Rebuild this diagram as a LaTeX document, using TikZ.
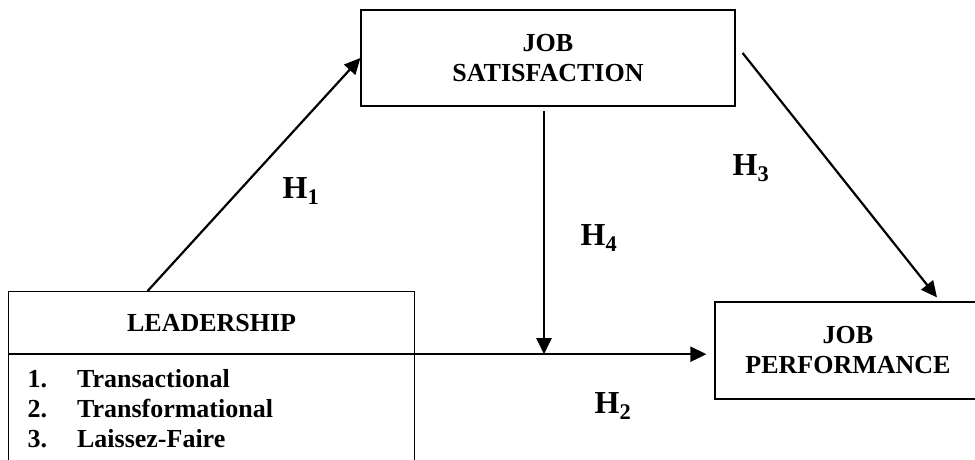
\documentclass[tikz,border=0pt]{standalone}
\usepackage{fontspec}
\setmainfont{Liberation Serif}
\usetikzlibrary{arrows.meta,positioning}

\tikzset{
  box/.style={draw, line width=1.2pt, font=\fontsize{26}{30}\selectfont\bfseries, align=center, inner sep=0pt},
  link/.style={line width=2.2pt, -{Triangle[length=16pt,width=15pt]}},
  hyp/.style={font=\fontsize{32}{36}\selectfont\bfseries}
}

\begin{document}
\begin{tikzpicture}[x=1pt,y=-1pt]
\useasboundingbox (0,0) rectangle (975,460);
\clip (0,0) rectangle (975,460);
\node[box, anchor=north west, minimum width=406pt, minimum height=62pt] (lead) at (8,291) {LEADERSHIP};
\node[box, anchor=north west, minimum width=406pt, minimum height=113pt, text width=406pt, align=left] (types) at (lead.south west)
  {\begin{tabular}{@{\hspace{19pt}}l@{\hspace{30pt}}l@{}}
   1. & Transactional\\
   2. & Transformational\\
   3. & Laissez-Faire
   \end{tabular}};
\node[box, minimum width=374pt, minimum height=96pt] (sat) at (548,58) {JOB\\SATISFACTION};
\node[box, minimum width=266pt, minimum height=97pt] (perf) at (848,350.5) {JOB\\PERFORMANCE};

\draw[link] ([xshift=-64pt]lead.north) -- (sat.west);
\draw[link, shorten >=8pt] (lead.south east) -- (lead.south east -| perf.west);
\draw[link] ([xshift=7pt,yshift=5pt]sat.east) -- ([xshift=89pt,yshift=4pt]perf.north);
\draw[link, shorten <=4pt] ([xshift=-4pt]sat.south) -- ([xshift=-4pt]sat.south |- lead.south east);

\node[hyp] (h1) at (301,191) {H\textsubscript{1}};
\node[hyp] (h2) at (613,406) {H\textsubscript{2}};
\node[hyp] (h3) at (751,168) {H\textsubscript{3}};
\node[hyp] (h4) at (599,238) {H\textsubscript{4}};
\end{tikzpicture}
\end{document}
